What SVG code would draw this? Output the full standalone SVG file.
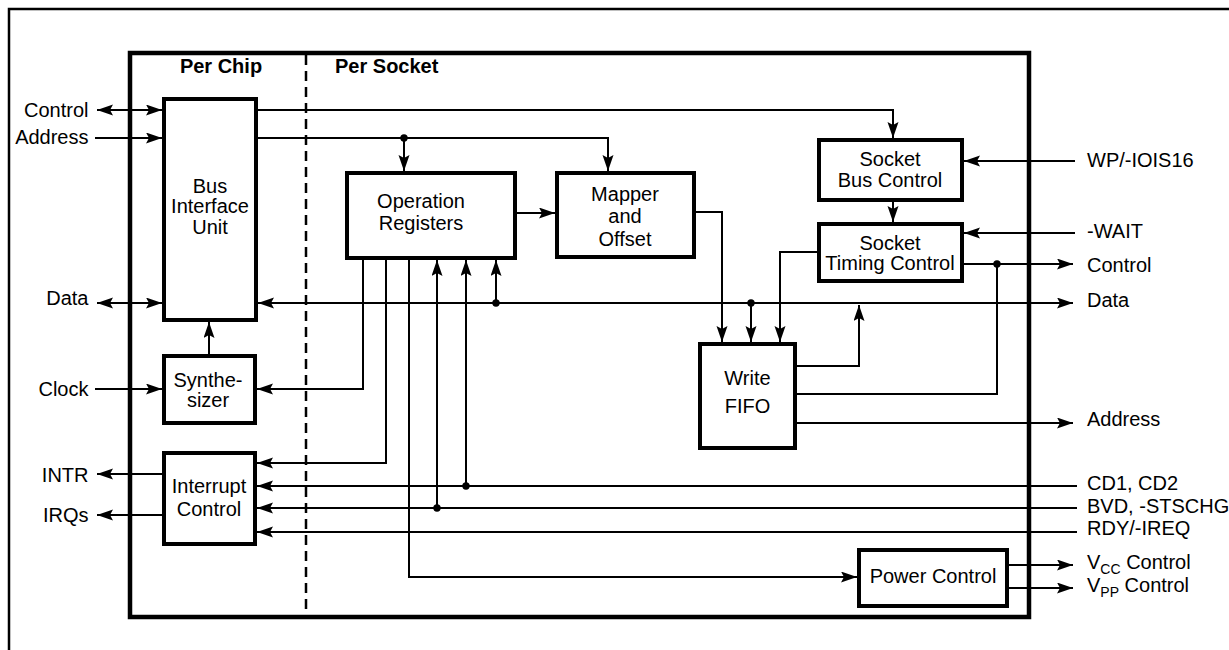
<svg xmlns="http://www.w3.org/2000/svg" width="1229" height="650" viewBox="0 0 1229 650">
<style>
.t{font-family:"Liberation Sans",Arial,Helvetica,sans-serif;font-size:20px;fill:#000}
.c{text-anchor:middle}
.e{text-anchor:end}
.b{font-weight:bold}
.box{fill:#fff;stroke:#000;stroke-width:4}
.ln{fill:none;stroke:#000;stroke-width:2}
.a{marker-end:url(#ah)}
.aa{marker-start:url(#ah);marker-end:url(#ah)}
.dot{fill:#000}
.sub{font-size:14px}
</style>
<defs>
<marker id="ah" markerUnits="userSpaceOnUse" markerWidth="17" markerHeight="12" refX="16" refY="5.5" orient="auto-start-reverse">
<path d="M0,0 L16,5.5 L0,11 L3,5.5 z" fill="#000"/>
</marker>
</defs>
<rect width="1229" height="650" fill="#fff"/>
<path d="M9,650 V9 H1229" fill="none" stroke="#000" stroke-width="2.5"/>
<g id="frame">
<rect x="130" y="53" width="899" height="564" fill="none" stroke="#000" stroke-width="4.5"/>
<line x1="306" y1="55" x2="306" y2="615" stroke="#000" stroke-width="2.5" stroke-dasharray="10 6"/>
<text class="t b c" x="221" y="73">Per Chip</text>
<text class="t b" x="335" y="73">Per Socket</text>
</g>
<g id="connectors">
<path class="ln aa" d="M97,110 H162"/>
<path class="ln a" d="M95,138 H162"/>
<path class="ln aa" d="M97,303 H162"/>
<path class="ln a" d="M95,389 H162"/>
<path class="ln a" d="M164,474 H97"/>
<path class="ln a" d="M164,515 H97"/>
<path class="ln a" d="M209,354 V322"/>
<path class="ln a" d="M258,110 H893 V138"/>
<path class="ln a" d="M258,138 H608 V171"/>
<path class="ln a" d="M404,138 V171"/>
<path class="ln a" d="M517,213 H555"/>
<path class="ln a" d="M696,212 H722 V342"/>
<path class="ln aa" d="M258,303 H1073"/>
<path class="ln a" d="M496,303 V260"/>
<path class="ln a" d="M751,303 V342"/>
<path class="ln a" d="M817,252 H780 V342"/>
<path class="ln a" d="M893,202 V222"/>
<path class="ln a" d="M1075,161 H964"/>
<path class="ln a" d="M1075,233 H964"/>
<path class="ln a" d="M964,264 H1073"/>
<path class="ln a" d="M797,366 H859 V305"/>
<path class="ln" d="M797,394 H997 V264"/>
<path class="ln a" d="M797,423 H1073"/>
<path class="ln a" d="M363,260 V389 H257"/>
<path class="ln a" d="M386,260 V463 H257"/>
<path class="ln a" d="M409,260 V577 H857"/>
<path class="ln a" d="M1077,486 H257"/>
<path class="ln a" d="M466,486 V260"/>
<path class="ln a" d="M1077,508 H257"/>
<path class="ln a" d="M437,508 V260"/>
<path class="ln a" d="M1077,532 H257"/>
<path class="ln a" d="M1009,565 H1073"/>
<path class="ln a" d="M1009,588 H1073"/>
<circle class="dot" cx="404" cy="138" r="3.7"/>
<circle class="dot" cx="496" cy="303" r="3.7"/>
<circle class="dot" cx="751" cy="303" r="3.7"/>
<circle class="dot" cx="997" cy="264" r="3.7"/>
<circle class="dot" cx="466" cy="486" r="3.7"/>
<circle class="dot" cx="437" cy="508" r="3.7"/>
</g>
<g id="biu">
<rect class="box" x="164" y="99" width="92" height="221"/>
<text class="t c" x="210" y="192.5">Bus</text>
<text class="t c" x="210" y="213">Interface</text>
<text class="t c" x="210" y="233.5">Unit</text>
</g>
<g id="synth">
<rect class="box" x="164" y="356" width="91" height="67"/>
<text class="t c" x="208" y="386.7">Synthe-</text>
<text class="t c" x="208" y="406.7">sizer</text>
</g>
<g id="intr">
<rect class="box" x="164" y="453" width="91" height="91"/>
<text class="t c" x="209" y="493.3">Interrupt</text>
<text class="t c" x="209" y="516">Control</text>
</g>
<g id="opreg">
<rect class="box" x="347" y="173" width="168" height="85"/>
<text class="t c" x="421" y="208.3">Operation</text>
<text class="t c" x="421" y="230">Registers</text>
</g>
<g id="mapper">
<rect class="box" x="557" y="173" width="137" height="84"/>
<text class="t c" x="625" y="200.7">Mapper</text>
<text class="t c" x="625" y="223">and</text>
<text class="t c" x="625" y="246">Offset</text>
</g>
<g id="sbc">
<rect class="box" x="819" y="140" width="143" height="60"/>
<text class="t c" x="890" y="165.5">Socket</text>
<text class="t c" x="890" y="187">Bus Control</text>
</g>
<g id="stc">
<rect class="box" x="819" y="224" width="143" height="57"/>
<text class="t c" x="890" y="249.5">Socket</text>
<text class="t c" x="890" y="270">Timing Control</text>
</g>
<g id="fifo">
<rect class="box" x="700" y="344" width="95" height="104"/>
<text class="t c" x="747.5" y="385">Write</text>
<text class="t c" x="747.5" y="412.7">FIFO</text>
</g>
<g id="power">
<rect class="box" x="859" y="550" width="148" height="56"/>
<text class="t c" x="933" y="583.3">Power Control</text>
</g>
<g id="labels">
<text class="t e" x="88.5" y="117.3">Control</text>
<text class="t e" x="88.5" y="144">Address</text>
<text class="t e" x="88.5" y="305">Data</text>
<text class="t e" x="88.5" y="396">Clock</text>
<text class="t e" x="88.5" y="481.7">INTR</text>
<text class="t e" x="88.5" y="521.7">IRQs</text>
<text class="t" x="1087" y="167">WP/-IOIS16</text>
<text class="t" x="1087" y="238">-WAIT</text>
<text class="t" x="1087" y="271.5">Control</text>
<text class="t" x="1087" y="306.5">Data</text>
<text class="t" x="1087" y="426">Address</text>
<text class="t" x="1087" y="489.5">CD1, CD2</text>
<text class="t" x="1087" y="512.5">BVD, -STSCHG</text>
<text class="t" x="1087" y="535">RDY/-IREQ</text>
<text class="t" x="1087" y="569">V<tspan class="sub" dy="5">CC</tspan><tspan dy="-5"> Control</tspan></text>
<text class="t" x="1087" y="591.7">V<tspan class="sub" dy="5">PP</tspan><tspan dy="-5"> Control</tspan></text>
</g>
</svg>
